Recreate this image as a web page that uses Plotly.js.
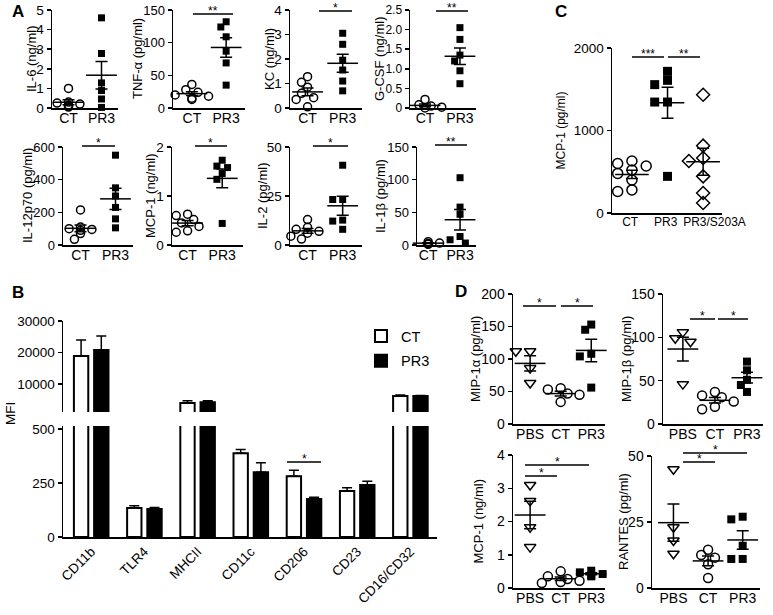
<!DOCTYPE html>
<html><head><meta charset="utf-8">
<script src="https://cdn.plot.ly/plotly-3.0.1.min.js"></script>
<style>body{margin:0;background:#fff}#chart{width:773px;height:615px}</style>
</head><body><div id="chart"></div>
<script>
// ---------------- DATA ----------------
const catsA = ['CT', 'PR3'];
const il6_CT = [1.0, 0.3, 0.25, 0.2, 0.15, 0.1, 0.05];
const il6_PR3 = [4.6, 2.78, 1.28, 0.89, 0.46, 0.03];
const tnf_CT = [36, 28, 24, 20, 15, 13, 18];
const tnf_PR3 = [132, 124, 109, 87, 69, 35];
const kc_CT = [1.28, 1.05, 0.85, 0.6, 0.42, 0.35, 0.05];
const kc_PR3 = [3.05, 2.6, 1.95, 1.55, 1.1, 0.7];
const gcsf_CT = [0.22, 0.08, 0.05, 0.03, 0.02, 0.0];
const gcsf_PR3 = [2.05, 1.75, 1.35, 1.2, 0.95, 0.62];
const il12_CT = [215, 110, 100, 95, 90, 70, 35];
const il12_PR3 = [550, 350, 300, 230, 160, 105];
const mcp1A_CT = [0.63, 0.6, 0.52, 0.45, 0.38, 0.29, 0.26];
const mcp1A_PR3 = [1.73, 1.61, 1.58, 1.46, 1.34, 0.44];
const il2_CT = [13, 9, 8, 7, 6, 4.5, 3];
const il2_PR3 = [40.7, 23.2, 23.2, 12.7, 12.2, 8];
const il1b_CT = [5, 4, 3, 2, 2, 1];
const il1b_PR3 = [103, 58, 47, 13, 8, 3];

const catsC = ['CT', 'PR3', 'PR3/S203A'];
const mcpC_CT = [630, 600, 570, 520, 480, 400, 280, 260];
const mcpC_PR3 = [1717, 1608, 1556, 1345, 1345, 444];
const mcpC_S203A = [1434, 816, 667, 630, 444, 242, 121];

const catsB = ['CD11b', 'TLR4', 'MHCII', 'CD11c', 'CD206', 'CD23', 'CD16/CD32'];
const mfi_CT = [18900, 134, 3970, 389, 282, 214, 6200];
const mfi_CT_err = [5100, 11, 700, 17, 28, 14, 300];
const mfi_PR3 = [20800, 130, 4200, 300, 176, 241, 6200];
const mfi_PR3_err = [4400, 7, 500, 44, 9, 18, 150];

const catsD = ['PBS', 'CT', 'PR3'];
const mip1a_PBS = [112, 112, 86, 63];
const mip1a_CT = [55, 53, 47, 45, 34];
const mip1a_PR3 = [153, 145, 108, 104, 56];
const mip1b_PBS = [106, 99, 95, 46];
const mip1b_CT = [37, 33, 31, 26, 20, 17];
const mip1b_PR3 = [72, 62, 51, 45, 37];
const mcpD_PBS = [3.1, 2.62, 1.83, 1.23];
const mcpD_CT = [0.5, 0.35, 0.27, 0.22, 0.18, 0.15];
const mcpD_PR3 = [0.52, 0.47, 0.42, 0.38, 0.35];
const rantes_PBS = [45, 23, 18, 13];
const rantes_CT = [14.5, 12.5, 11.5, 9, 3.8];
const rantes_PR3 = [27, 26, 16, 11, 11];

// ---------------- LAYOUT HELPERS ----------------
const W = 773, H = 615;
const FONT = 'Liberation Sans, Arial, sans-serif';
const px2x = p => p / W;
const px2y = p => 1 - p / H;

const CIR = {symbol: 'circle-open', size: 8, color: 'black', lw: 1.5};
const SQ = {symbol: 'square', size: 7, color: 'black', lw: 0};
const DIA = {symbol: 'diamond-open', size: 10, color: 'black', lw: 1.5};
const TRI = {symbol: 'triangle-down-open', size: 10, color: 'black', lw: 1.5};
const big = (m, s) => Object.assign({}, m, {size: s});

const panels = [
  {box: [52, 118, 10, 108], yr: [0, 5], tv: [0,1,2,3,4,5], cats: catsA, xr: [-0.5, 1.5], g: [[il6_CT, CIR], [il6_PR3, SQ]], title: 'IL-6 (ng/ml)', tx: 31, fs: 14, yfs: 13.5},
  {box: [173, 245, 10, 108], yr: [0, 150], tv: [0,50,100,150], cats: catsA, xr: [-0.55, 1.55], g: [[tnf_CT, CIR], [tnf_PR3, SQ]], title: 'TNF-α (pg/ml)', tx: 137, fs: 14, yfs: 13},
  {box: [290, 362, 10, 108], yr: [0, 4], tv: [0,1,2,3,4], cats: catsA, xr: [-0.5, 1.55], g: [[kc_CT, CIR], [kc_PR3, SQ]], title: 'KC (ng/ml)', tx: 269, fs: 14, yfs: 13.5},
  {box: [410, 476, 10, 108], yr: [0, 2.5], tv: [0,0.5,1,1.5,2,2.5], tt: ['0','0.5','1.0','1.5','2.0','2.5'], cats: catsA, xr: [-0.43, 1.46], g: [[gcsf_CT, CIR], [gcsf_PR3, SQ]], title: 'G-CSF (ng/ml)', tx: 379, fs: 14, yfs: 12},
  {box: [63, 133, 147, 245], yr: [0, 600], tv: [0,200,400,600], cats: catsA, xr: [-0.5, 1.5], g: [[il12_CT, CIR], [il12_PR3, SQ]], title: 'IL-12p70 (pg/ml)', tx: 27, fs: 14, yfs: 13},
  {box: [172, 243, 147, 245], yr: [0, 2], tv: [0,1,2], cats: catsA, xr: [-0.45, 1.6], g: [[mcp1A_CT, CIR], [mcp1A_PR3, SQ]], title: 'MCP-1 (ng/ml)', tx: 150, fs: 14, yfs: 13.5},
  {box: [290, 362, 147, 245], yr: [0, 50], tv: [0,25,50], cats: catsA, xr: [-0.5, 1.55], g: [[il2_CT, CIR], [il2_PR3, SQ]], title: 'IL-2 (pg/ml)', tx: 262, fs: 14, yfs: 13.5},
  {box: [417, 476, 147, 245], yr: [0, 150], tv: [0,50,100,150], cats: catsA, xr: [-0.35, 1.5], g: [[il1b_CT, CIR], [il1b_PR3, SQ]], title: 'IL-1β (pg/ml)', tx: 380, fs: 14, yfs: 13},
  {box: [612, 722, 48, 213], yr: [0, 2000], tv: [0,1000,2000], cats: catsC, ctv: [-0.05, 0.95, 2.32], xr: [-0.56, 2.53], g: [[mcpC_CT, big(CIR, 10)], [mcpC_PR3, big(SQ, 9)], [mcpC_S203A, DIA]], title: 'MCP-1 (pg/ml)', tx: 561, tfs: 12, fs: 12, yfs: 13.5, meanW: 24},
  {box: [513, 605, 294, 424], yr: [0, 200], tv: [0,50,100,150,200], cats: catsD, xr: [-0.56, 2.45], g: [[mip1a_PBS, TRI], [mip1a_CT, big(CIR, 9)], [mip1a_PR3, big(SQ, 8)]], title: 'MIP-1α (pg/ml)', tx: 475, fs: 14, yfs: 14},
  {box: [663, 763, 294, 424], yr: [0, 150], tv: [0,50,100,150], cats: catsD, xr: [-0.62, 2.5], g: [[mip1b_PBS, TRI], [mip1b_CT, big(CIR, 9)], [mip1b_PR3, big(SQ, 8)]], title: 'MIP-1β (pg/ml)', tx: 626, fs: 14, yfs: 14},
  {box: [513, 605, 455, 588], yr: [0, 4], tv: [0,1,2,3,4], cats: catsD, xr: [-0.56, 2.45], g: [[mcpD_PBS, TRI], [mcpD_CT, big(CIR, 9)], [mcpD_PR3, big(SQ, 8)]], title: 'MCP-1 (ng/ml)', tx: 478, fs: 14, yfs: 14},
  {box: [652, 760, 456, 588], yr: [0, 50], tv: [0,25,50], cats: catsD, xr: [-0.62, 2.5], g: [[rantes_PBS, TRI], [rantes_CT, big(CIR, 9)], [rantes_PR3, big(SQ, 8)]], title: 'RANTES (pg/ml)', tx: 623, fs: 14, yfs: 14}
];

const mean = a => a.reduce((s, v) => s + v, 0) / a.length;
const sem = a => { const m = mean(a); return Math.sqrt(a.reduce((s, v) => s + (v - m) * (v - m), 0) / (a.length - 1)) / Math.sqrt(a.length); };

// beeswarm-like horizontal spread (pixel space) so overlapping markers separate
function spread(vals, p, size) {
  const hpx = p.box[3] - p.box[2];
  const wpx = p.box[1] - p.box[0];
  const unit = wpx / (p.xr[1] - p.xr[0]);
  const d = size * 0.95;
  const cands = [0, -d * 0.8, d * 0.8, -d * 1.5, d * 1.5, -d * 2.2, d * 2.2];
  const placed = [];
  const order = vals.map((v, i) => i).sort((a, b) => vals[b] - vals[a]);
  const off = new Array(vals.length).fill(0);
  order.forEach(i => {
    const py = vals[i] / (p.yr[1] - p.yr[0]) * hpx;
    for (const c of cands) {
      if (placed.every(q => Math.hypot(q[0] - c, q[1] - py) >= d)) { off[i] = c; placed.push([c, py]); return; }
    }
    off[i] = 0; placed.push([0, py]);
  });
  return off.map(o => o / unit);
}

const traces = [];
const layout = {
  width: W, height: H, margin: {l: 0, r: 0, t: 0, b: 0},
  paper_bgcolor: 'white', plot_bgcolor: 'rgba(0,0,0,0)',
  font: {family: FONT, color: 'black', size: 13},
  showlegend: true,
  annotations: [], shapes: []
};

const axLine = {showline: true, linecolor: 'black', linewidth: 1.5, showgrid: false, zeroline: false};

panels.forEach((p, k) => {
  const n = k + 1;
  const xa = 'xaxis' + n, ya = 'yaxis' + n;
  layout[xa] = Object.assign({}, axLine, {
    domain: [px2x(p.box[0]), px2x(p.box[1])], range: p.xr, anchor: 'y' + n,
    tickvals: p.ctv || p.cats.map((c, i) => i), ticktext: p.cats, ticks: '', ticklen: 0, tickangle: 0,
    ticklabelstandoff: -3,
    tickfont: {size: p.fs, family: FONT, color: 'black'}
  });
  layout[ya] = Object.assign({}, axLine, {
    domain: [px2y(p.box[3]), px2y(p.box[2])], range: p.yr, anchor: 'x' + n,
    tickvals: p.tv, ticktext: p.tt || p.tv.map(String), ticks: 'outside', ticklen: 4, tickwidth: 1.5, tickcolor: 'black',
    tickfont: {size: p.yfs || p.fs, family: FONT, color: 'black'}
  });
  layout.annotations.push({
    xref: 'paper', yref: 'paper', x: px2x(p.tx), y: px2y((p.box[2] + p.box[3]) / 2),
    text: p.title, textangle: -90, showarrow: false, xanchor: 'center', yanchor: 'middle',
    font: {size: p.tfs || 13, family: FONT, color: 'black'}
  });
  p.g.forEach((grp, gi) => {
    const vals = grp[0], m = grp[1];
    const offs = spread(vals, p, m.size);
    traces.push({
      type: 'scatter', mode: 'markers', xaxis: 'x' + n, yaxis: 'y' + n, showlegend: false, cliponaxis: false,
      x: vals.map((v, i) => gi + offs[i]), y: vals,
      marker: {symbol: m.symbol, size: m.size, color: m.color, line: {width: m.lw, color: 'black'}}
    });
    traces.push({
      type: 'scatter', mode: 'markers', xaxis: 'x' + n, yaxis: 'y' + n, showlegend: false, cliponaxis: false,
      x: [gi], y: [mean(vals)],
      marker: {symbol: 'line-ew', size: p.meanW || 22, color: 'black', line: {width: 1.5, color: 'black'}},
      error_y: {type: 'data', array: [sem(vals)], visible: true, width: 6, thickness: 1.5, color: 'black'}
    });
  });
});

// ---------- Panel B (broken axis bar chart) ----------
const nb = panels.length + 1; // bottom segment
const nt = nb + 1;            // top segment (shares x axis of bottom)
layout['xaxis' + nb] = Object.assign({}, axLine, {
  domain: [px2x(63), px2x(437)], range: [-0.53, 6.5], anchor: 'y' + nb,
  tickvals: catsB.map((c, i) => i), ticktext: catsB, ticks: '', tickangle: -45,
  tickfont: {size: 13.5, family: FONT, color: 'black'}
});
layout['yaxis' + nb] = Object.assign({}, axLine, {
  domain: [px2y(537), px2y(426)], range: [0, 515], anchor: 'x' + nb,
  tickvals: [0, 250, 500], ticktext: ['0', '250', '500'], ticks: 'outside', ticklen: 4, tickwidth: 1.5, tickcolor: 'black',
  tickfont: {size: 13.5, family: FONT, color: 'black'}
});
layout['yaxis' + nt] = Object.assign({}, axLine, {
  domain: [px2y(412), px2y(321)], range: [1100, 30000], anchor: 'x' + nb,
  tickvals: [10000, 20000, 30000], ticktext: ['10000', '20000', '30000'], ticks: 'outside', ticklen: 4, tickwidth: 1.5, tickcolor: 'black',
  tickfont: {size: 13.5, family: FONT, color: 'black'}
});
[['y' + nb, true], ['y' + nt, false]].forEach(([yax, leg]) => {
  traces.push({
    type: 'bar', name: 'CT', xaxis: 'x' + nb, yaxis: yax, showlegend: leg, legendgroup: 'ct',
    x: catsB.map((c, i) => i), y: mfi_CT, width: 0.27, offset: -0.325,
    marker: {color: 'white', line: {color: 'black', width: 2}},
    error_y: {type: 'data', symmetric: false, array: mfi_CT_err, arrayminus: mfi_CT_err.map(() => 0), width: 5, thickness: 1.5, color: 'black'}
  });
  traces.push({
    type: 'bar', name: 'PR3', xaxis: 'x' + nb, yaxis: yax, showlegend: leg, legendgroup: 'pr3',
    x: catsB.map((c, i) => i), y: mfi_PR3, width: 0.27, offset: 0.055,
    marker: {color: 'black', line: {color: 'black', width: 2}},
    error_y: {type: 'data', symmetric: false, array: mfi_PR3_err, arrayminus: mfi_PR3_err.map(() => 0), width: 5, thickness: 1.5, color: 'black'}
  });
});
layout.barmode = 'overlay';
layout.legend = {x: px2x(361), y: px2y(320), xanchor: 'left', yanchor: 'top', bgcolor: 'rgba(0,0,0,0)',
  font: {size: 14.5, family: FONT, color: 'black'}, tracegroupgap: 3, itemwidth: 30};
layout.annotations.push({xref: 'paper', yref: 'paper', x: px2x(10), y: px2y(414), text: 'MFI', textangle: -90,
  showarrow: false, xanchor: 'center', yanchor: 'middle', font: {size: 13.5, family: FONT}});

// ---------- significance bars ----------
const sig = [
  [193, 233, 14, '**'], [319, 352, 11, '*'], [436, 468, 11, '**'],
  [82, 115, 146, '*'], [195, 227, 146, '*'], [313, 348, 146, '*'], [435, 467, 145, '**'],
  [632, 664, 57, '***'], [668, 700, 57, '**'],
  [287, 321, 462, '*'],
  [523, 556, 306, '*'], [561, 593, 306, '*'], [690, 715, 319, '*'], [718, 748, 319, '*'],
  [525, 589, 465, '*'], [525, 557, 476, '*'], [683, 747, 453, '*'], [683, 715, 462, '*']
];
sig.forEach(s => {
  layout.shapes.push({type: 'line', xref: 'paper', yref: 'paper', x0: px2x(s[0]), x1: px2x(s[1]), y0: px2y(s[2]), y1: px2y(s[2]),
    line: {color: 'black', width: 1.5}});
  layout.annotations.push({xref: 'paper', yref: 'paper', x: px2x((s[0] + s[1]) / 2), y: px2y(s[2]), text: s[3],
    showarrow: false, xanchor: 'center', yanchor: 'bottom', yshift: -6, font: {size: 12, family: FONT}});
});

// ---------- panel letters ----------
[['A', 10, 11], ['B', 10, 292], ['C', 553, 11], ['D', 453, 291]].forEach(l => {
  layout.annotations.push({xref: 'paper', yref: 'paper', x: px2x(l[1]), y: px2y(l[2]), text: '<b>' + l[0] + '</b>',
    showarrow: false, xanchor: 'left', yanchor: 'middle', font: {size: 17, family: FONT}});
});

Plotly.newPlot('chart', traces, layout, {staticPlot: true, displayModeBar: false});
</script>
</body></html>
